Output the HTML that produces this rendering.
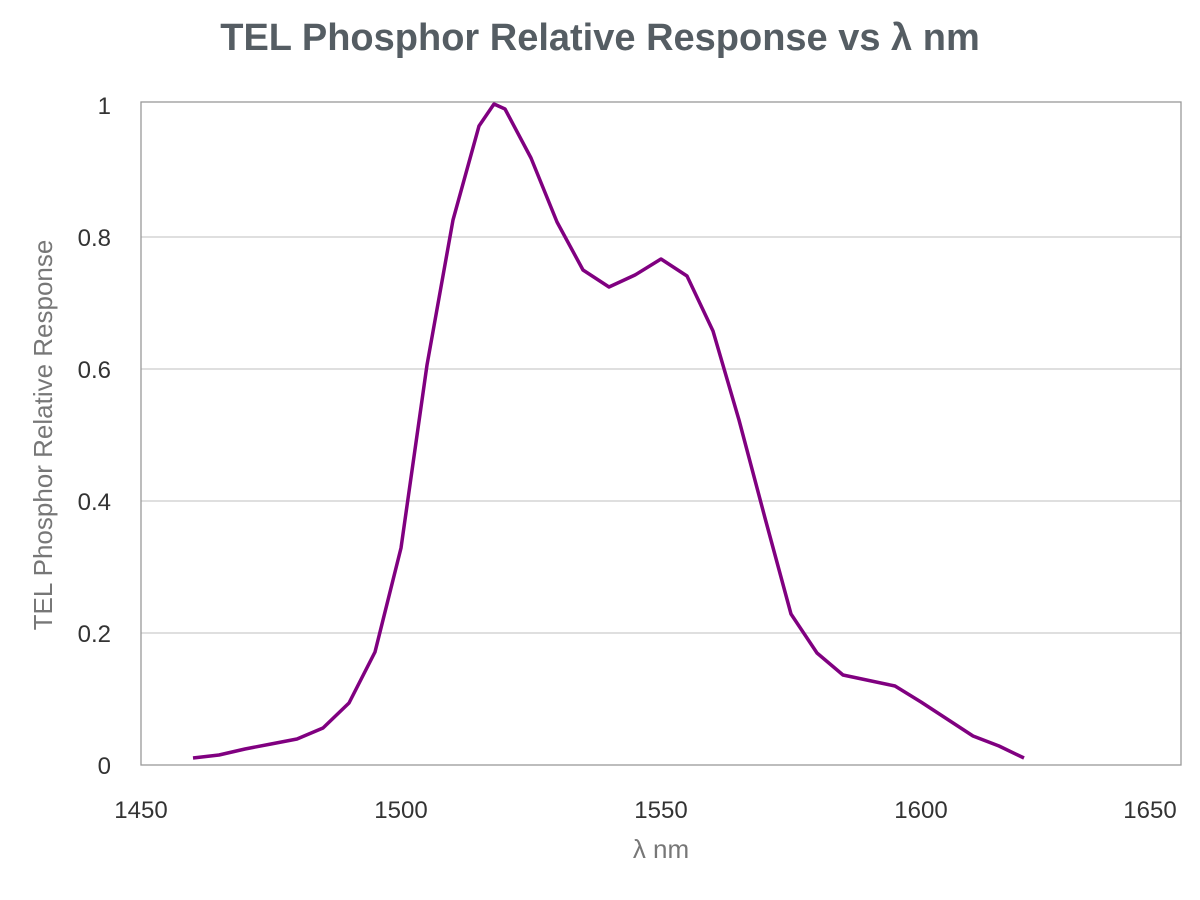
<!DOCTYPE html>
<html><head><meta charset="utf-8"><style>
html,body{margin:0;padding:0;background:#fff;}
svg{display:block;font-family:"Liberation Sans",Arial,sans-serif;}
</style></head><body>
<svg width="1200" height="900" viewBox="0 0 1200 900">
<text x="600" y="50" text-anchor="middle" font-size="38" font-weight="bold" fill="#555d63">TEL Phosphor Relative Response vs λ nm</text>
<g stroke="#cccccc" stroke-width="1.3">
<line x1="141" y1="237" x2="1181" y2="237"/>
<line x1="141" y1="369" x2="1181" y2="369"/>
<line x1="141" y1="501" x2="1181" y2="501"/>
<line x1="141" y1="633" x2="1181" y2="633"/>
</g>
<rect x="141" y="102" width="1040" height="663" fill="none" stroke="#999" stroke-width="1.3"/>
<g font-size="24" fill="#333" text-anchor="end">
<text x="111" y="114">1</text>
<text x="111" y="246">0.8</text>
<text x="111" y="378">0.6</text>
<text x="111" y="510">0.4</text>
<text x="111" y="642">0.2</text>
<text x="111" y="774">0</text>
</g>
<g font-size="24" fill="#333" text-anchor="middle">
<text x="141" y="818">1450</text>
<text x="401" y="818">1500</text>
<text x="661" y="818">1550</text>
<text x="921" y="818">1600</text>
<text x="1150" y="818">1650</text>
</g>
<text x="661" y="858" text-anchor="middle" font-size="26" fill="#777">λ nm</text>
<text transform="translate(52,435) rotate(-90)" text-anchor="middle" font-size="26" fill="#777">TEL Phosphor Relative Response</text>
<polyline fill="none" stroke="#800080" stroke-width="3.5" stroke-linejoin="round" points="193,758 219,755 245,749 271,744 297,739 323,728 349,703 375,652 401,548 427,365 453,220 479,126 494,104 505,109 531,158 557,222 583,270 609,287 635,275 661,259 687,276 713,331 739,420 765,518 791,614 817,653 843,675 895,686 921,702 947,719 973,736 999,746 1024,758"/>
</svg>
</body></html>
